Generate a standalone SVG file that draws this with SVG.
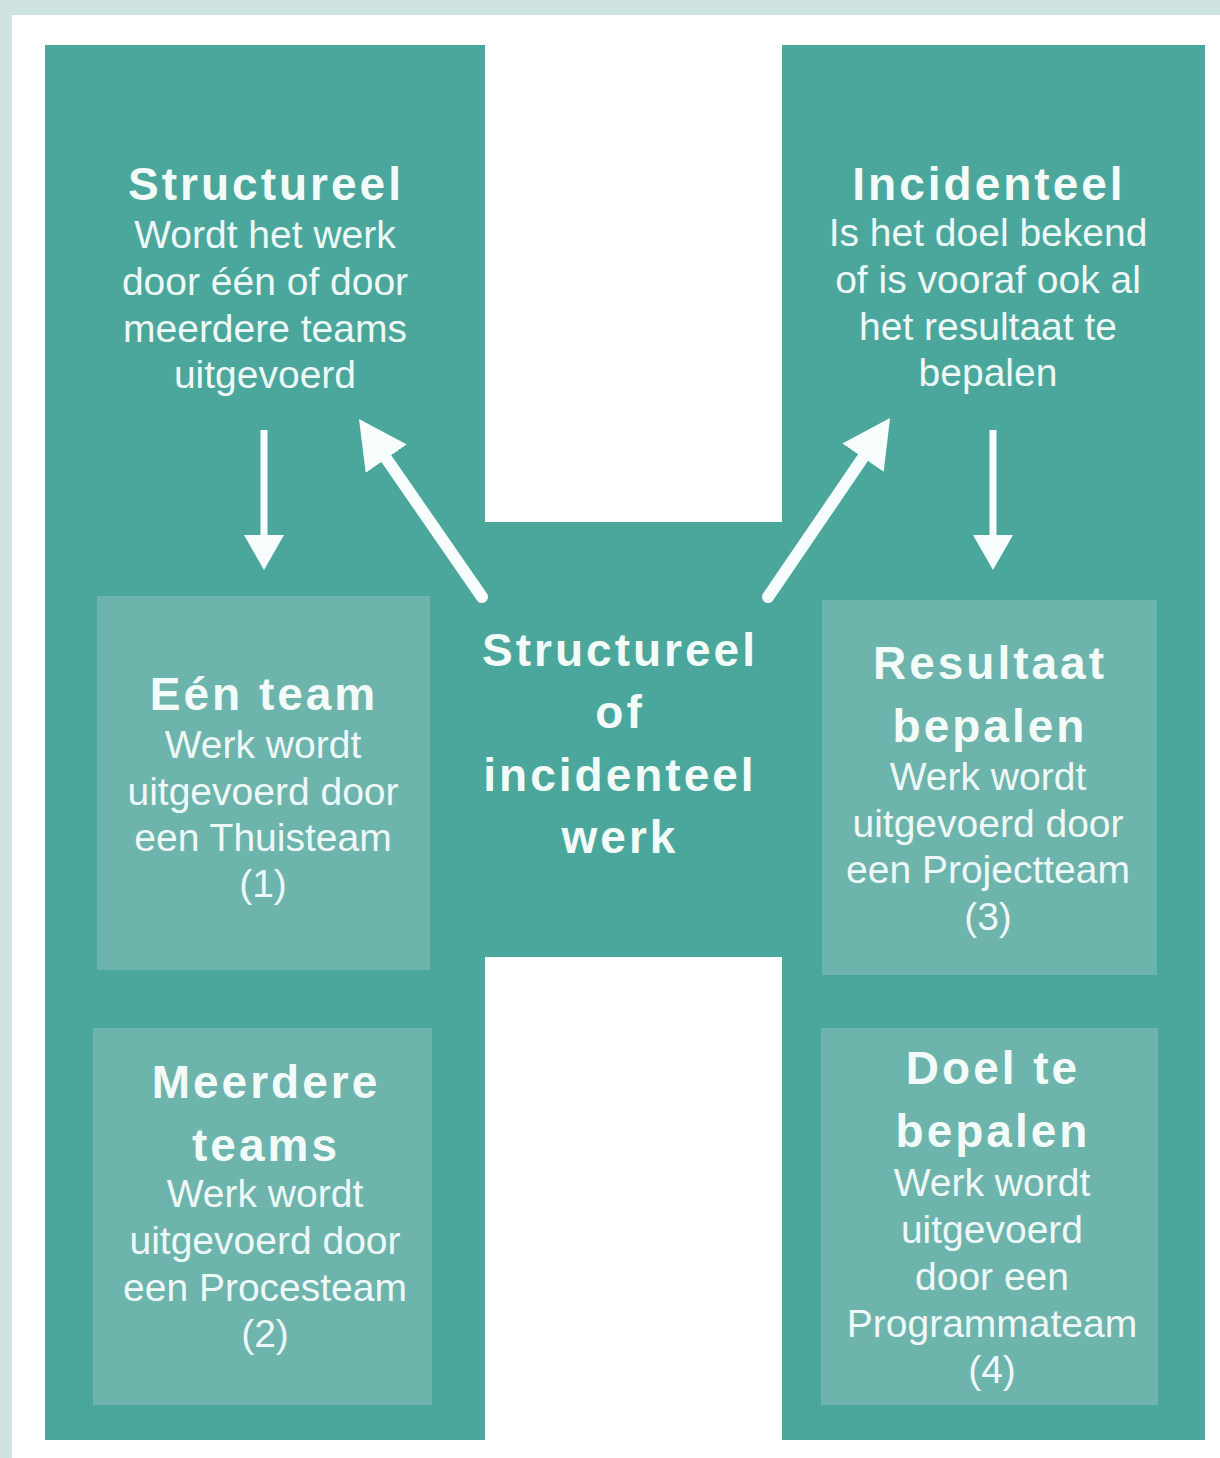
<svg xmlns="http://www.w3.org/2000/svg" width="1220" height="1458" viewBox="0 0 1220 1458">
  <style>
    .h { font-family: "Liberation Sans", Arial, sans-serif; font-weight: bold; font-size: 46px; letter-spacing: 3px; fill: #f3fbf9; text-anchor: middle; }
    .s { font-family: "Liberation Sans", Arial, sans-serif; font-size: 39px; fill: #eef8f6; text-anchor: middle; }
    .box { fill: #6db4ac; }
    .arr { stroke: #f7fdfc; fill: none; }
  </style>
  <defs>
    <marker id="headSm" markerUnits="userSpaceOnUse" viewBox="0 -20 35 40" markerWidth="35" markerHeight="40" refX="0" refY="0" orient="auto">
      <path d="M0,-20 L35,0 L0,20 Z" fill="#f7fdfc"/>
    </marker>
    <marker id="headLg" markerUnits="userSpaceOnUse" viewBox="0 -25 48 50" markerWidth="48" markerHeight="50" refX="0" refY="0" orient="auto">
      <path d="M0,-25 L48,0 L0,25 Z" fill="#f7fdfc"/>
    </marker>
  </defs>

  <rect x="0" y="0" width="1220" height="1458" fill="#cfe4e2"/>
  <rect x="12" y="15" width="1208" height="1443" fill="#ffffff"/>

  <g id="frame">
    <path d="M45,45 H485 V522 H782 V45 H1205 V1440 H782 V957 H485 V1440 H45 Z" fill="#4ba79b"/>
  </g>

  <g id="structureel">
    <text class="h" x="266" y="200">Structureel</text>
    <text class="s" x="265" y="248">Wordt het werk</text>
    <text class="s" x="265" y="295">door één of door</text>
    <text class="s" x="265" y="342">meerdere teams</text>
    <text class="s" x="265" y="388">uitgevoerd</text>
  </g>

  <g id="incidenteel">
    <text class="h" x="989" y="200">Incidenteel</text>
    <text class="s" x="988" y="246">Is het doel bekend</text>
    <text class="s" x="988" y="293">of is vooraf ook al</text>
    <text class="s" x="988" y="340">het resultaat te</text>
    <text class="s" x="988" y="386">bepalen</text>
  </g>

  <g id="center">
    <text class="h" x="620" y="666">Structureel</text>
    <text class="h" x="620" y="728">of</text>
    <text class="h" x="620" y="791">incidenteel</text>
    <text class="h" x="620" y="853">werk</text>
  </g>

  <g id="een-team">
    <rect class="box" x="97" y="596" width="333" height="374"/>
    <text class="h" x="264" y="710">Eén team</text>
    <text class="s" x="263" y="758">Werk wordt</text>
    <text class="s" x="263" y="805">uitgevoerd door</text>
    <text class="s" x="263" y="851">een Thuisteam</text>
    <text class="s" x="263" y="897">(1)</text>
  </g>

  <g id="resultaat-bepalen">
    <rect class="box" x="822" y="600" width="335" height="375"/>
    <text class="h" x="990" y="679">Resultaat</text>
    <text class="h" x="990" y="742">bepalen</text>
    <text class="s" x="988" y="790">Werk wordt</text>
    <text class="s" x="988" y="837">uitgevoerd door</text>
    <text class="s" x="988" y="883">een Projectteam</text>
    <text class="s" x="988" y="930">(3)</text>
  </g>

  <g id="meerdere-teams">
    <rect class="box" x="93" y="1028" width="339" height="377"/>
    <text class="h" x="266" y="1098">Meerdere</text>
    <text class="h" x="266" y="1161">teams</text>
    <text class="s" x="265" y="1207">Werk wordt</text>
    <text class="s" x="265" y="1254">uitgevoerd door</text>
    <text class="s" x="265" y="1301">een Procesteam</text>
    <text class="s" x="265" y="1347">(2)</text>
  </g>

  <g id="doel-te-bepalen">
    <rect class="box" x="821" y="1028" width="337" height="377"/>
    <text class="h" x="993" y="1084">Doel te</text>
    <text class="h" x="993" y="1147">bepalen</text>
    <text class="s" x="992" y="1196">Werk wordt</text>
    <text class="s" x="992" y="1243">uitgevoerd</text>
    <text class="s" x="992" y="1290">door een</text>
    <text class="s" x="992" y="1337">Programmateam</text>
    <text class="s" x="992" y="1383">(4)</text>
  </g>

  <g id="connectors">
    <line class="arr" x1="264" y1="430" x2="264" y2="535" stroke-width="7" marker-end="url(#headSm)"/>
    <line class="arr" x1="993" y1="430" x2="993" y2="535" stroke-width="7" marker-end="url(#headSm)"/>
    <line class="arr" x1="482" y1="597" x2="386.3" y2="458.6" stroke-width="12" stroke-linecap="round" marker-end="url(#headLg)"/>
    <line class="arr" x1="768" y1="597" x2="863" y2="457.7" stroke-width="12" stroke-linecap="round" marker-end="url(#headLg)"/>
  </g>
</svg>
